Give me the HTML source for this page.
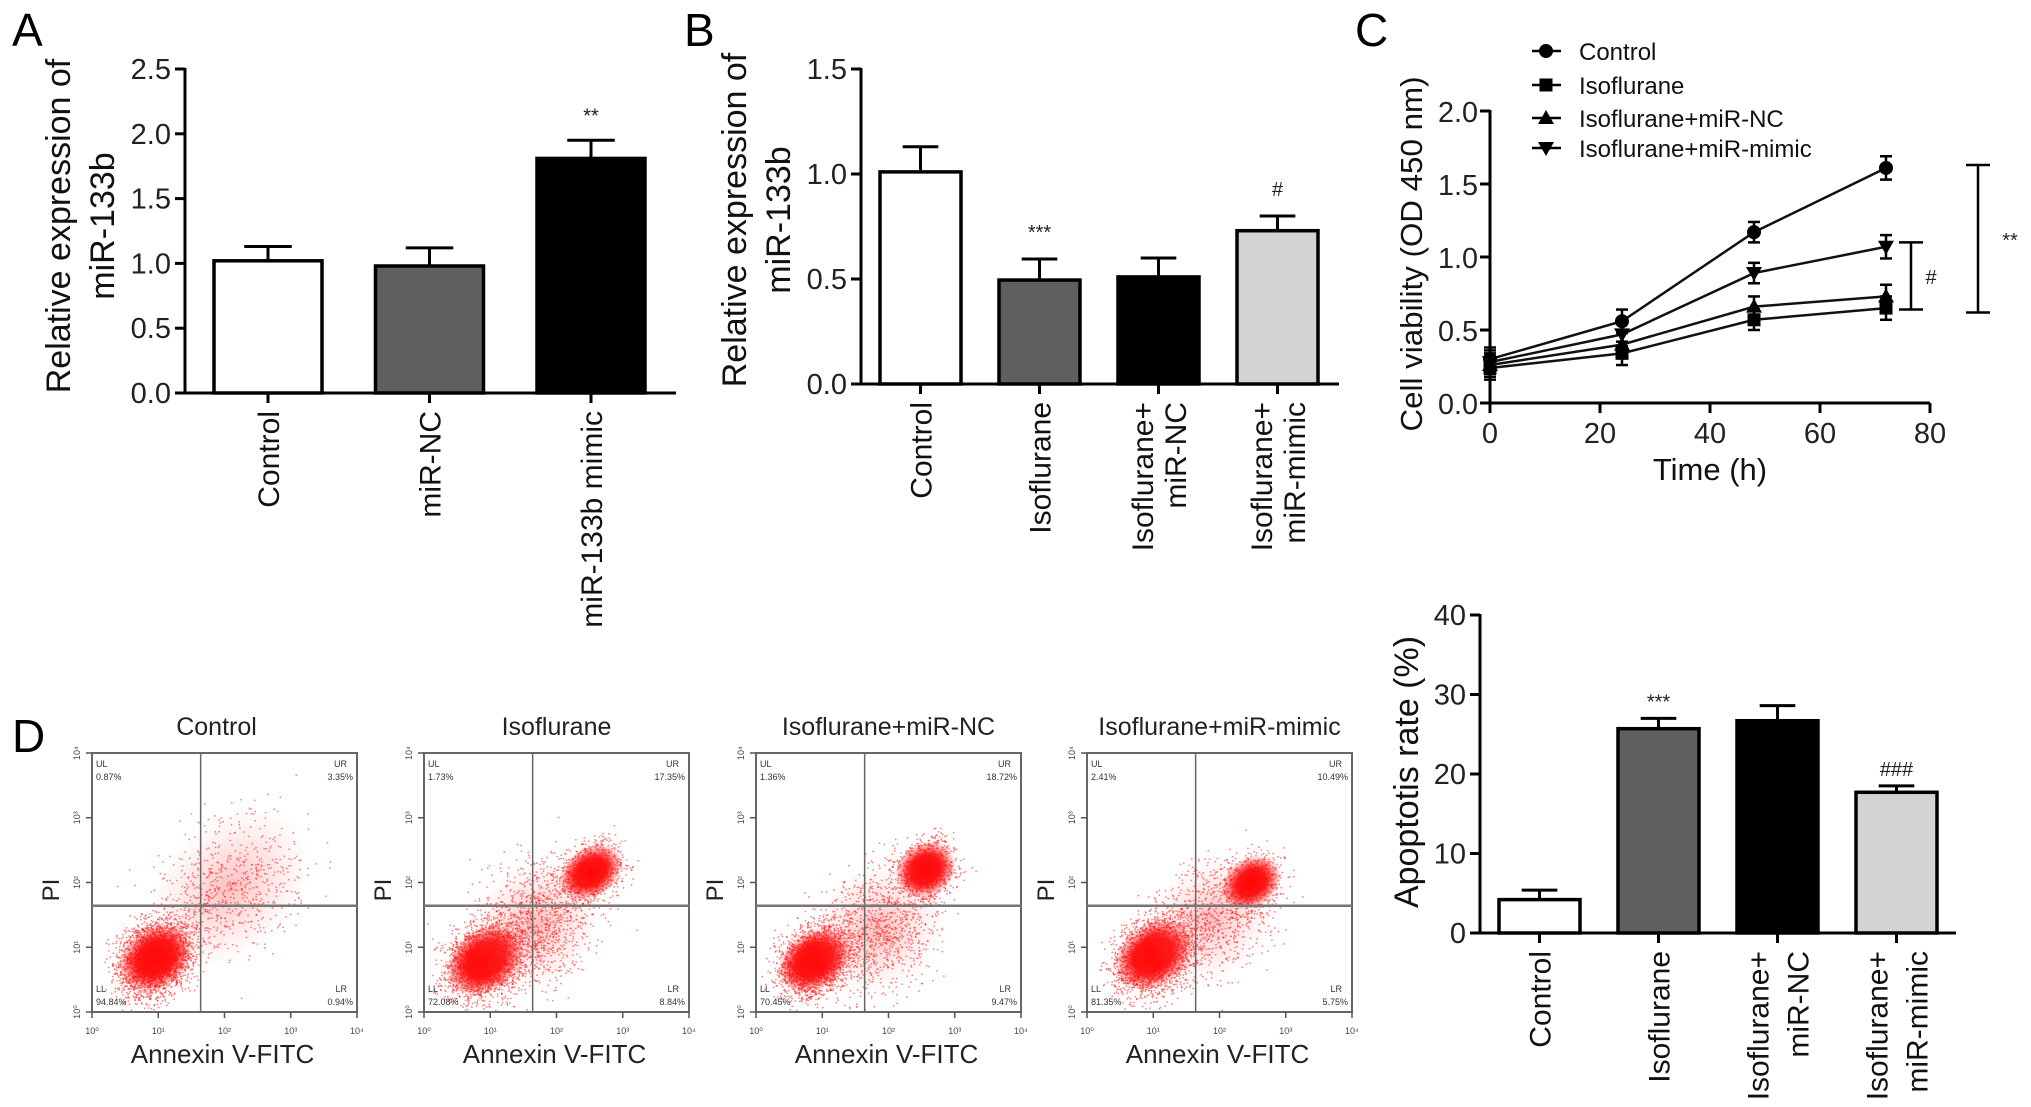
<!DOCTYPE html>
<html><head><meta charset="utf-8"><style>
html,body{margin:0;padding:0;background:#fff;}
svg{display:block;font-family:"Liberation Sans",Arial,sans-serif;}
</style></head><body>
<svg id="fig" width="2031" height="1107" viewBox="0 0 2031 1107">
<defs>
<radialGradient id="blob" cx="50%" cy="50%" r="50%">
<stop offset="0%" stop-color="#f00" stop-opacity="1"/>
<stop offset="50%" stop-color="#f00" stop-opacity="0.9"/>
<stop offset="100%" stop-color="#f00" stop-opacity="0"/>
</radialGradient>
<radialGradient id="haze" cx="50%" cy="50%" r="50%">
<stop offset="0%" stop-color="#f44" stop-opacity="0.35"/>
<stop offset="100%" stop-color="#f88" stop-opacity="0"/>
</radialGradient>
</defs>
</svg>
<script>
// ---------- data ----------
const aCats = ["Control","miR-NC","miR-133b mimic"];
const aVals = [1.02, 0.98, 1.81];
const aErrs = [0.11, 0.14, 0.14];
const aTicks = ["0.0","0.5","1.0","1.5","2.0","2.5"];

const bCats = [["Control"],["Isoflurane"],["Isoflurane+","miR-NC"],["Isoflurane+","miR-mimic"]];
const bVals = [1.01, 0.495, 0.51, 0.73];
const bErrs = [0.12, 0.10, 0.09, 0.07];
const bTicks = ["0.0","0.5","1.0","1.5"];

const cTimes = [0, 24, 48, 72];
const cControl = [0.30, 0.56, 1.17, 1.61];
const cIso = [0.24, 0.34, 0.57, 0.65];
const cIsoNC = [0.26, 0.40, 0.66, 0.73];
const cIsoMimic = [0.28, 0.47, 0.89, 1.07];
const cErr = [0.08, 0.08, 0.07, 0.08];
const cYTicks = ["0.0","0.5","1.0","1.5","2.0"];
const cXTicks = ["0","20","40","60","80"];

const eCats = [["Control"],["Isoflurane"],["Isoflurane+","miR-NC"],["Isoflurane+","miR-mimic"]];
const eVals = [4.2, 25.7, 26.7, 17.7];
const eErrs = [1.2, 1.3, 1.9, 0.8];
const eTicks = ["0","10","20","30","40"];

const dTitles = ["Control","Isoflurane","Isoflurane+miR-NC","Isoflurane+miR-mimic"];
const dUL = ["0.87%","1.73%","1.36%","2.41%"];
const dUR = ["3.35%","17.35%","18.72%","10.49%"];
const dLL = ["94.84%","72.08%","70.45%","81.35%"];
const dLR = ["0.94%","8.84%","9.47%","5.75%"];

const svg = document.getElementById('fig');
const NS = 'http://www.w3.org/2000/svg';
function mk(tag, attrs, parent){
  const e = document.createElementNS(NS, tag);
  for (const k in attrs) e.setAttribute(k, attrs[k]);
  (parent||svg).appendChild(e);
  return e;
}
function txt(s, attrs, parent){ const t = mk('text', attrs, parent); t.textContent = s; return t; }

[["A",12,46],["B",684,46],["C",1355,46],["D",12,752]].forEach(p=>{
  const t = txt(p[0], {x:p[1], y:p[2], 'font-size':46});
  
  
});

function barChart(o){
  const g = mk('g', {});
  
  
  const ys = v => o.y0 - (v - 0) / o.vmax * (o.y0 - o.yTop);
  const ya = mk('line', {x1:o.x0, y1:o.yTop-1, x2:o.x0, y2:o.y0, stroke:'#000','stroke-width':3}, g);
  
  
  const xa = mk('line', {x1:o.x0, y1:o.y0, x2:o.xEnd, y2:o.y0, stroke:'#000','stroke-width':3}, g);
  
  
  o.ticks.forEach((tl,i)=>{
    const v = o.vmax * i / (o.ticks.length-1);
    const y = ys(v);
    mk('line', {x1:o.x0-10, y1:y, x2:o.x0, y2:y, stroke:'#000','stroke-width':3}, g);
    const t = txt(tl, {x:o.x0-14, y:y+10, 'font-size':29, 'text-anchor':'end', fill:'#222'}, g);
    
    
  });
  o.vals.forEach((v,i)=>{
    const x = o.bx + i*o.pitch, w = o.bw, cx = x + w/2;
    const yt = ys(v), ye = ys(v + o.errs[i]);
    mk('line', {x1:cx, y1:yt, x2:cx, y2:ye, stroke:'#000','stroke-width':3}, g);
    mk('line', {x1:cx-w*0.22, y1:ye, x2:cx+w*0.22, y2:ye, stroke:'#000','stroke-width':3}, g);
    const r = mk('rect', {x:x, y:yt, width:w, height:o.y0-yt, fill:o.fills[i], stroke:'#000','stroke-width':3.5}, g);
    
    
    mk('line', {x1:cx, y1:o.y0, x2:cx, y2:o.y0+10, stroke:'#000','stroke-width':3}, g);
    const lines = o.cats[i];
    const n = lines.length;
    lines.forEach((s,j)=>{
      const lx = cx + (j - (n-1)/2) * o.lineGap + 11;
      const ly = o.y0 + 18;
      const t = txt(s, {x:lx, y:ly, 'font-size':o.catSize, 'text-anchor':'end', transform:`rotate(-90 ${lx} ${ly})`, fill:'#111'}, g);
      
      
    });
    if (o.sig[i]) {
      const t = txt(o.sig[i], {x:cx, y:ye - o.sigGap, 'font-size':20, 'text-anchor':'middle', fill:'#222'}, g);
      
      
    }
  });
  o.titles.forEach((s,j)=>{
    const t = txt(s, {x:o.tx[j], y:o.ty, 'font-size':o.titleSize, 'text-anchor':'middle', transform:`rotate(-90 ${o.tx[j]} ${o.ty})`, fill:'#111'}, g);
    
    
  });
}

barChart({name:'chart-a', x0:185, y0:393, yTop:69, xEnd:676, vmax:2.5, ticks:aTicks,
  vals:aVals, errs:aErrs, cats:aCats.map(c=>[c]), bx:214, bw:108, pitch:161.5,
  fills:['#fff','#5f5f5f','#000'], sig:['','','**'], sigGap:18, lineGap:34, catSize:30,
  titles:['Relative expression of','miR-133b'], tx:[70,114], ty:226, titleSize:34});

barChart({name:'chart-b', x0:861, y0:384, yTop:69, xEnd:1339, vmax:1.5, ticks:bTicks,
  vals:bVals, errs:bErrs, cats:bCats, bx:880, bw:81, pitch:119,
  fills:['#fff','#5f5f5f','#000','#d3d3d3'], sig:['','***','','#'], sigGap:20, lineGap:33, catSize:30,
  titles:['Relative expression of','miR-133b'], tx:[746,790], ty:220, titleSize:34});

barChart({name:'chart-e', x0:1480, y0:933, yTop:615, xEnd:1956, vmax:40, ticks:eTicks,
  vals:eVals, errs:eErrs, cats:eCats, bx:1499, bw:81, pitch:119,
  fills:['#fff','#5f5f5f','#000','#d3d3d3'], sig:['','***','','###'], sigGap:10, lineGap:40, catSize:30,
  titles:['Apoptotis rate (%)'], tx:[1418], ty:772, titleSize:34});

(function(){
  const g = mk('g', {});
  
  
  const x0 = 1490, y0 = 403, yTop = 111, xEnd = 1930;
  const xs = t => x0 + t / 80 * (xEnd - x0);
  const ys = v => y0 - v / 2 * (y0 - yTop);
  mk('line', {x1:x0, y1:yTop-1, x2:x0, y2:y0, stroke:'#000','stroke-width':3}, g);
  mk('line', {x1:x0, y1:y0, x2:xEnd, y2:y0, stroke:'#000','stroke-width':3}, g);
  cYTicks.forEach((s,i)=>{
    const y = ys(2*i/(cYTicks.length-1));
    mk('line', {x1:x0-10, y1:y, x2:x0, y2:y, stroke:'#000','stroke-width':3}, g);
    const t = txt(s, {x:x0-12, y:y+11, 'font-size':29, 'text-anchor':'end', fill:'#222', textLength:40, lengthAdjust:'spacingAndGlyphs'}, g);
    
    
  });
  cXTicks.forEach((s,i)=>{
    const x = xs(80*i/(cXTicks.length-1));
    mk('line', {x1:x, y1:y0, x2:x, y2:y0+10, stroke:'#000','stroke-width':3}, g);
    const t = txt(s, {x:x, y:y0+40, 'font-size':29, 'text-anchor':'middle', fill:'#222'}, g);
    
    
  });
  const xt = txt('Time (h)', {x:1710, y:480, 'font-size':31, 'text-anchor':'middle', fill:'#111'}, g);
  
  
  const yt = txt('Cell viability (OD 450 nm)', {x:1422, y:254, 'font-size':31, 'text-anchor':'middle', transform:'rotate(-90 1422 254)', fill:'#111', textLength:355, lengthAdjust:'spacingAndGlyphs'}, g);
  
  

  function marker(type, x, y, parent){
    if (type==='circle') return mk('circle', {cx:x, cy:y, r:7, fill:'#000'}, parent);
    if (type==='square') return mk('rect', {x:x-6.5, y:y-6.5, width:13, height:13, fill:'#000'}, parent);
    if (type==='up') return mk('polygon', {points:`${x},${y-8} ${x-8},${y+6} ${x+8},${y+6}`, fill:'#000'}, parent);
    return mk('polygon', {points:`${x},${y+8} ${x-8},${y-6} ${x+8},${y-6}`, fill:'#000'}, parent);
  }
  const series = [
    {name:'Control', vals:cControl, m:'circle'},
    {name:'Isoflurane', vals:cIso, m:'square'},
    {name:'Isoflurane+miR-NC', vals:cIsoNC, m:'up'},
    {name:'Isoflurane+miR-mimic', vals:cIsoMimic, m:'down'}
  ];
  series.forEach((s,si)=>{
    const sg = mk('g', {}, g);
    
    
    const pts = s.vals.map((v,i)=>`${xs(cTimes[i])},${ys(v)}`).join(' ');
    mk('polyline', {points:pts, fill:'none', stroke:'#111', 'stroke-width':2.5}, sg);
    s.vals.forEach((v,i)=>{
      const x = xs(cTimes[i]);
      const e = cErr[i];
      mk('line', {x1:x, y1:ys(v-e), x2:x, y2:ys(v+e), stroke:'#000','stroke-width':2.5}, sg);
      mk('line', {x1:x-6, y1:ys(v+e), x2:x+6, y2:ys(v+e), stroke:'#000','stroke-width':2.5}, sg);
      mk('line', {x1:x-6, y1:ys(v-e), x2:x+6, y2:ys(v-e), stroke:'#000','stroke-width':2.5}, sg);
      const p = marker(s.m, x, ys(v), sg);
      
      
    });
    const ly = [51,85,118,148][si];
    const lg = mk('g', {}, g);
    
    
    mk('line', {x1:1532, y1:ly, x2:1561, y2:ly, stroke:'#000','stroke-width':2.5}, lg);
    marker(s.m, 1546, ly, lg);
    txt(s.name, {x:1579, y:ly+9, 'font-size':24, fill:'#111'}, lg);
  });
  function bracket(x, v1, v2, label, lx, name){
    const bg = mk('g', {}, g);
    
    
    mk('line', {x1:x, y1:ys(v1), x2:x, y2:ys(v2), stroke:'#000','stroke-width':2.5}, bg);
    mk('line', {x1:x-12, y1:ys(v1), x2:x+12, y2:ys(v1), stroke:'#000','stroke-width':2.5}, bg);
    mk('line', {x1:x-12, y1:ys(v2), x2:x+12, y2:ys(v2), stroke:'#000','stroke-width':2.5}, bg);
    txt(label, {x:lx, y:ys((v1+v2)/2)+8, 'font-size':20, 'text-anchor':'middle', fill:'#222'}, bg);
  }
  bracket(1911, 1.10, 0.64, '#', 1931, 'bracket-hash');
  bracket(1978, 1.63, 0.62, '**', 2010, 'bracket-double-star');
})();

// ---------- panel D flow cytometry ----------
(function(){
  const plotX = [92, 424, 756, 1087];
  const pw = 265, py = 753, ph = 259;
  // [fx, fy, sx, sy, dots, dense]
  const clusters = [
    [[0.24,0.79,0.075,0.075,2600,1],[0.52,0.52,0.16,0.14,700,0]],
    [[0.23,0.80,0.08,0.075,2400,1],[0.42,0.66,0.12,0.13,1100,0],[0.63,0.46,0.065,0.06,900,1]],
    [[0.22,0.80,0.075,0.07,2200,1],[0.46,0.68,0.12,0.13,1000,0],[0.64,0.45,0.06,0.065,900,1]],
    [[0.25,0.78,0.08,0.075,2400,1],[0.47,0.64,0.12,0.12,800,0],[0.62,0.50,0.06,0.06,500,1]]
  ];
  let seed = 7;
  function rnd(){ seed = (seed*16807) % 2147483647; return seed/2147483647; }
  function gauss(){ return (rnd()+rnd()+rnd()+rnd()-2)/0.577; }
  plotX.forEach((x0,k)=>{
    const g = mk('g', {});
    
    
    const title = txt(dTitles[k], {x:x0+pw/2+(k===0?-8:0), y:735, 'font-size':25, 'text-anchor':'middle', fill:'#222'}, g);
    
    
    clusters[k].forEach(c=>{
      const cx = x0 + c[0]*pw, cy = py + c[1]*ph;
      const sx = c[2]*pw, sy = c[3]*ph;
      if (c[5]) mk('ellipse', {cx:cx, cy:cy, rx:sx*2.0, ry:sy*1.6, fill:'url(#blob)', transform:`rotate(-35 ${cx} ${cy})`}, g);
      else mk('ellipse', {cx:cx, cy:cy, rx:sx*2.2, ry:sy*1.8, fill:'url(#haze)', transform:`rotate(-45 ${cx} ${cy})`}, g);
      for (let i=0;i<c[4];i++){
        const a = gauss()*sx, b = gauss()*sy;
        const px = cx + a*0.85 + b*0.35, pyy = cy - a*0.55 + b*0.8;
        if (px<x0+2||px>x0+pw-2||pyy<py+2||pyy>py+ph-2) continue;
        mk('rect', {x:px, y:pyy, width:1.5, height:1.5, fill:'#f11', opacity:0.55}, g);
      }
    });
    const fr = mk('rect', {x:x0, y:py, width:pw, height:ph, fill:'none', stroke:'#666', 'stroke-width':2}, g);
    
    
    mk('line', {x1:x0+0.41*pw, y1:py, x2:x0+0.41*pw, y2:py+ph, stroke:'#666','stroke-width':1.5}, g);
    mk('line', {x1:x0, y1:py+0.59*ph, x2:x0+pw, y2:py+0.59*ph, stroke:'#777','stroke-width':2.5}, g);
    for (let i=0;i<5;i++){
      const tx = x0 + i*pw/4;
      mk('line', {x1:tx, y1:py+ph, x2:tx, y2:py+ph+6, stroke:'#555','stroke-width':1.5}, g);
      txt('10' + ['⁰','¹','²','³','⁴'][i], {x:tx, y:py+ph+22, 'font-size':9, 'text-anchor':'middle', fill:'#444'}, g);
      const ty = py+ph - i*ph/4;
      mk('line', {x1:x0-6, y1:ty, x2:x0, y2:ty, stroke:'#555','stroke-width':1.5}, g);
      txt('10' + ['⁰','¹','²','³','⁴'][i], {x:x0-12, y:ty, 'font-size':9, 'text-anchor':'middle', transform:`rotate(-90 ${x0-12} ${ty})`, fill:'#444'}, g);
    }
    txt('UL', {x:x0+4, y:py+14, 'font-size':9, fill:'#333'}, g);
    txt(dUL[k], {x:x0+4, y:py+27, 'font-size':9, fill:'#333'}, g);
    txt('UR', {x:x0+pw-10, y:py+14, 'font-size':9, 'text-anchor':'end', fill:'#333'}, g);
    txt(dUR[k], {x:x0+pw-4, y:py+27, 'font-size':9, 'text-anchor':'end', fill:'#333'}, g);
    txt('LL', {x:x0+4, y:py+ph-20, 'font-size':9, fill:'#333'}, g);
    txt(dLL[k], {x:x0+4, y:py+ph-7, 'font-size':9, fill:'#333'}, g);
    txt('LR', {x:x0+pw-10, y:py+ph-20, 'font-size':9, 'text-anchor':'end', fill:'#333'}, g);
    txt(dLR[k], {x:x0+pw-4, y:py+ph-7, 'font-size':9, 'text-anchor':'end', fill:'#333'}, g);
    const pi = txt('PI', {x:x0-33, y:890, 'font-size':24, 'text-anchor':'middle', transform:`rotate(-90 ${x0-33} 890)`, fill:'#222'}, g);
    
    
    const an = txt('Annexin V-FITC', {x:x0+pw/2-2, y:1063, 'font-size':26, 'text-anchor':'middle', fill:'#222'}, g);
    
    
  });
})();
</script>
</body></html>
